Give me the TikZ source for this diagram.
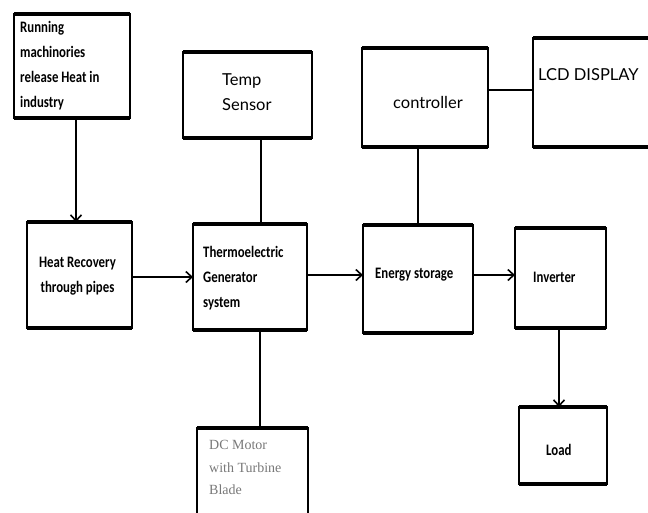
\documentclass[tikz,border=0pt]{standalone}
\usepackage{fontspec}
\setmainfont{Carlito}
\newfontfamily\condfont[FakeStretch=0.8]{Carlito}
\newfontfamily\gothic{Lato}
\newfontfamily\serifT{Liberation Serif}
\usetikzlibrary{arrows.meta}
\definecolor{dcgray}{RGB}{120,120,120}
\begin{document}
\begin{tikzpicture}[x=1pt,y=-1pt,
  box/.style={draw,line width=1.8pt,outer sep=0pt,inner sep=0pt},
  conn/.style={line width=2.8pt},
  arr/.style={conn,-{Straight Barb[length=6pt,width=11pt,line width=1.6pt]}},
  bt/.style={font=\condfont\bfseries\fontsize{16}{25}\selectfont,align=left,inner sep=0pt,anchor=west},
  gt/.style={font=\gothic\fontsize{16.5}{25}\selectfont,align=left,inner sep=0pt,anchor=west},
  st/.style={font=\serifT\fontsize{14}{22.5}\selectfont,text=dcgray,align=left,inner sep=0pt,anchor=west}]
\useasboundingbox (0,0) rectangle (648,512);
% boxes
\node[box,minimum width=116pt,minimum height=104pt] (run) at (72,66) {};
\node[box,minimum width=105pt,minimum height=106pt] (heat) at (79.5,275) {};
\node[box,minimum width=114pt,minimum height=106pt] (teg) at (250,277) {};
\node[box,minimum width=129pt,minimum height=86pt] (temp) at (247.5,95) {};
\node[box,minimum width=126pt,minimum height=99pt] (ctrl) at (425,97.5) {};
\node[box,minimum width=125pt,minimum height=109pt] (lcd) at (595.5,92.5) {};
\node[box,minimum width=110pt,minimum height=108pt] (energy) at (418,279) {};
\node[box,minimum width=91pt,minimum height=100pt] (inv) at (560.5,278) {};
\node[box,minimum width=88pt,minimum height=77pt] (load) at (563,445.5) {};
\node[box,minimum width=111pt,minimum height=92pt] (dc) at (252.5,474) {};
% thick top and bottom edges
\foreach \n in {run,heat,teg,temp,ctrl,lcd,energy,inv,load,dc}{
  \draw[line width=3.6pt] (\n.north west) -- (\n.north east);
  \draw[line width=3.2pt] (\n.south west) -- (\n.south east);
}
% texts
\node[bt] (runT) at (20,66) {Running\\machinories\\release Heat in\\industry};
\node[bt,align=center,anchor=center] (heatT) at (77.5,276) {Heat Recovery\\through pipes};
\node[bt] (tegT) at (203,278.5) {Thermoelectric\\Generator\\system};
\node[bt] (energyT) at (375,275) {Energy storage};
\node[bt] (invT) at (533,277) {Inverter};
\node[bt] (loadT) at (546,450) {Load};
\node[gt] (tempT) at (222,92.5) {Temp\\Sensor};
\node[gt] (ctrlT) at (393,102) {controller};
\node[gt] (lcdT) at (538,75) {LCD DISPLAY};
\node[st] (dcT) at (209,467.5) {DC Motor\\with Turbine\\Blade};
% connectors
\draw[arr] ([xshift=4pt]run.south) -- ([xshift=4pt]run.south |- heat.north);
\draw[arr] ([yshift=-2pt]heat.east) -- ([yshift=-2pt]heat.east -| teg.west);
\draw[arr] ([yshift=2pt]teg.east) -- ([yshift=2pt]teg.east -| energy.west);
\draw[arr] ([yshift=4pt]energy.east) -- ([yshift=4pt]energy.east -| inv.west);
\draw[arr] ([xshift=-1.5pt]inv.south) -- ([xshift=-1.5pt]inv.south |- load.north);
\draw[conn] ([xshift=13.5pt]temp.south) -- ([xshift=13.5pt]temp.south |- teg.north);
\draw[conn] (energy.north) -- (energy.north |- ctrl.south);
\draw[conn] ([yshift=7.5pt]ctrl.east) -- ([yshift=7.5pt]ctrl.east -| lcd.west);
\draw[conn] ([xshift=10pt]teg.south) -- ([xshift=10pt]teg.south |- dc.north);
\end{tikzpicture}
\end{document}
